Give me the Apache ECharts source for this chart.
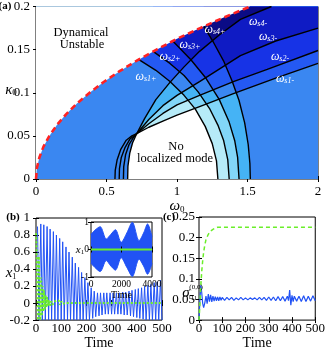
<!DOCTYPE html>
<html>
<head>
<meta charset="utf-8">
<script src="https://cdn.jsdelivr.net/npm/echarts@6/dist/echarts.min.js"></script>
<style>
html,body{margin:0;padding:0;background:#fff}
#main{width:328px;height:351px}
</style>
</head>
<body>
<div id="main"></div>
<script>
// (a) phase diagram: red boundary of the dynamically unstable region
const boundaryOmega = [0, 0.006, 0.024, 0.053, 0.095, 0.148, 0.213, 0.29, 0.38, 0.48, 0.593, 0.718, 0.855, 1.0, 1.164, 1.335, 1.52];
const boundaryKappa = [0, 0.0125, 0.025, 0.0375, 0.05, 0.0625, 0.075, 0.0875, 0.1, 0.1125, 0.125, 0.1375, 0.15, 0.1625, 0.175, 0.1875, 0.2];

// omega_s n+ curves (from the red boundary down to the axis)
const plusOmega = [
  [0.73, 0.85, 0.95, 1.05, 1.13, 1.2, 1.25, 1.28, 1.29],
  [0.83, 0.95, 1.05, 1.15, 1.23, 1.29, 1.33, 1.36, 1.37],
  [0.97, 1.1, 1.2, 1.3, 1.37, 1.41, 1.43, 1.44],
  [1.19, 1.26, 1.33, 1.39, 1.44, 1.48, 1.505, 1.517, 1.52]
];
const plusKappa = [
  [0.1385, 0.126, 0.113, 0.097, 0.081, 0.061, 0.041, 0.021, 0],
  [0.148, 0.134, 0.12, 0.101, 0.082, 0.0625, 0.045, 0.0225, 0],
  [0.16, 0.138, 0.118, 0.092, 0.066, 0.044, 0.025, 0],
  [0.177, 0.158, 0.137, 0.114, 0.091, 0.065, 0.04, 0.018, 0]
];

// omega_s n- curves (from the axis through the crossing point, out to the right)
const minusOmega = [
  [0.56, 0.562, 0.575, 0.6, 0.64, 0.68, 0.714, 0.8, 0.9, 1.0, 1.16, 1.4, 1.7, 2.0],
  [0.59, 0.592, 0.605, 0.63, 0.665, 0.714, 0.8, 0.9, 1.0, 1.16, 1.4, 1.64, 2.0],
  [0.62, 0.622, 0.635, 0.66, 0.69, 0.714, 0.8, 0.9, 1.0, 1.16, 1.45, 1.7, 2.0],
  [0.65, 0.652, 0.665, 0.685, 0.714, 0.77, 0.85, 0.95, 1.05, 1.16, 1.3, 1.45, 1.67]
];
const minusKappa = [
  [0, 0.01, 0.022, 0.034, 0.045, 0.05, 0.0525, 0.06, 0.067, 0.074, 0.084, 0.099, 0.117, 0.134],
  [0, 0.012, 0.025, 0.036, 0.046, 0.0525, 0.064, 0.076, 0.086, 0.097, 0.113, 0.127, 0.149],
  [0, 0.014, 0.028, 0.04, 0.048, 0.0525, 0.069, 0.085, 0.097, 0.113, 0.143, 0.16, 0.175],
  [0, 0.015, 0.03, 0.042, 0.0525, 0.07, 0.092, 0.112, 0.13, 0.148, 0.167, 0.185, 0.2]
];

// (b) x1 over time: blue peaks / troughs, green damped curve
const bluePeakTime = [6,19,31,44,56,69,81,94,106,119,131,144,156,169,181,194,206,219,231,244,256,269,281,294,306,319,331,344,356,369,381,394,406,419,431,444,456,469,481,494];
const bluePeakValue = [0.9,0.93,0.92,0.9,0.87,0.84,0.8,0.76,0.72,0.66,0.6,0.54,0.47,0.42,0.36,0.3,0.24,0.18,0.14,0.12,0.12,0.12,0.12,0.12,0.12,0.12,0.12,0.13,0.13,0.14,0.15,0.16,0.17,0.18,0.2,0.21,0.22,0.24,0.25,0.27];
const blueTroughTime = [12,25,37,50,62,75,87,100,112,125,137,150,162,175,187,200,212,225,237,250,262,275,287,300,312,325,337,350,362,375,387,400,412,425,437,450,462,475,487,500];
const blueTroughValue = [-0.2,-0.2,-0.2,-0.2,-0.2,-0.2,-0.2,-0.2,-0.2,-0.2,-0.2,-0.2,-0.2,-0.2,-0.2,-0.2,-0.2,-0.18,-0.16,-0.15,-0.14,-0.13,-0.13,-0.13,-0.13,-0.13,-0.13,-0.14,-0.14,-0.15,-0.16,-0.17,-0.18,-0.19,-0.2,-0.2,-0.2,-0.2,-0.2,-0.2];
const greenTime = [0,2,5,8,11,14,17,20,23,26,29,32,35,38,41,44,47,50,55,60,65,70,75,80,85,90,95,100,105,110,115,120,140,500];
const greenValue = [0.82,0.7,0.2,-0.2,0.55,0.2,-0.2,0.3,-0.15,0.2,-0.1,0.15,-0.08,0.1,-0.05,0.07,-0.04,0.04,-0.03,0.02,-0.02,0.01,0,0.03,0.04,0.03,-0.02,0.02,-0.01,0.01,0,0,0,0];

// (b) inset: long-time envelope of x1
const insetTime = [0,250,600,1000,1300,1600,1980,2350,2710,3150,3450,3710,4000];
const insetUpper = [0.55,0.7,0.83,0.38,0.55,0.72,0.26,0.6,0.99,0.32,0.6,0.93,0.45];
const insetLower = [-0.5,-0.65,-0.8,-0.4,-0.6,-0.75,-0.3,-0.65,-0.98,-0.35,-0.6,-0.9,-0.5];
const insetGreenTime = [0, 4000];
const insetGreenValue = [0, 0];

// (c) sigma_11 over time
const sigmaGreenTime = [0,4,8,12,16,20,25,30,40,50,60,70,80,100,500];
const sigmaGreenValue = [0,0.04,0.085,0.12,0.145,0.165,0.182,0.195,0.208,0.216,0.22,0.223,0.225,0.225,0.225];
const sigmaBlueTime = [0,4,8,12,16,20,25,30,35,40,45,50,55,60,65,70,75,80,85,90,95,100,110,120,130,140,150,160,170,180,190,200,210,220,230,240,250,260,270,280,290,300,310,320,330,340,350,360,370,380,385,390,395,400,405,410,420,430,440,450,460,470,480,490,500];
const sigmaBlueValue = [0,0.05,0.085,0.065,0.04,0.03,0.042,0.058,0.04,0.063,0.045,0.061,0.044,0.058,0.046,0.057,0.047,0.056,0.047,0.056,0.048,0.055,0.048,0.055,0.049,0.055,0.048,0.054,0.049,0.055,0.049,0.054,0.049,0.054,0.05,0.054,0.049,0.055,0.049,0.055,0.048,0.056,0.048,0.056,0.047,0.057,0.047,0.057,0.046,0.058,0.047,0.073,0.036,0.06,0.045,0.058,0.046,0.058,0.045,0.059,0.045,0.058,0.046,0.059,0.047];

// colour by number of existing branches (0 = none ... 8 = all)
const levelColors = ['#ffffff', '#b6ebf8', '#82d6f8', '#45b3f5', '#3a87f1', '#2459f3', '#1733e6', '#0f1bc4', '#0b0b86'];

const serif = 'Liberation Serif';
const blue = '#2152f5';
const green = '#6bee2a';

function pairs(xs, ys) { return xs.map((x, i) => [x, ys[i]]); }
function zigzag(t1, v1, t2, v2) {
  const out = [];
  t1.forEach((t, i) => { out.push([t, v1[i]]); out.push([t2[i], v2[i]]); });
  return out;
}

function renderRegions(params, api) {
  const P = (w, k) => api.coord([w, k]);
  const poly = (ws, ks) => ws.map((w, i) => P(w, ks[i]));
  const plot = [P(0, 0), P(2, 0), P(2, 0.2), P(0, 0.2)];
  const above = minusOmega.map((ws, n) => {
    const pts = poly(ws, minusKappa[n]);
    if (minusKappa[n][ws.length - 1] < 0.2) pts.push(P(2, 0.2));
    pts.push(P(0, 0.2), P(0, 0));
    return pts;
  });
  const outside = plusOmega.map((ws, n) => {
    const pts = [P(ws[0], 0.2)].concat(poly(ws, plusKappa[n]));
    pts.push(P(2, 0), P(2, 0.2));
    return pts;
  });
  const children = [];
  for (let a = 0; a <= 4; a++) {
    const kids = [{ type: 'polygon', shape: { points: plot }, style: { fill: levelColors[a] } }];
    outside.forEach((pts, b) => {
      kids.push({ type: 'polygon', shape: { points: pts }, style: { fill: levelColors[a + b + 1] } });
    });
    children.push({
      type: 'group',
      clipPath: { type: 'polygon', shape: { points: a === 0 ? plot : above[a - 1] } },
      children: kids
    });
  }
  const unstable = poly(boundaryOmega, boundaryKappa);
  unstable.push(P(0, 0.2));
  children.push({ type: 'polygon', shape: { points: unstable }, style: { fill: '#fff' } });
  return { type: 'group', children: children };
}

const label = { color: '#000', fontFamily: serif, fontSize: 13, formatter: v => String(v) };
function mainX(grid, min, max, interval, margin, name, nameGap, nameStyle) {
  return {
    type: 'value', gridIndex: grid, min: min, max: max, interval: interval, position: 'bottom',
    axisLine: { show: false }, splitLine: { show: false },
    axisTick: { inside: true, length: 3, lineStyle: { color: '#000' } },
    axisLabel: Object.assign({ margin: margin }, label),
    name: name, nameLocation: 'middle', nameGap: nameGap, nameTextStyle: nameStyle
  };
}
function mainY(grid, min, max, interval, margin) {
  return {
    type: 'value', gridIndex: grid, min: min, max: max, interval: interval, position: 'left',
    axisLine: { show: false }, splitLine: { show: false },
    axisTick: { inside: true, length: 3, lineStyle: { color: '#000' } },
    axisLabel: Object.assign({ margin: margin }, label)
  };
}
function mirror(axis, pos) {
  return Object.assign({}, axis, {
    position: pos, axisLabel: { show: false }, name: '', z: axis.z
  });
}

const ax = [
  mainX(0, 0, 2, 0.5, 6, '{i|ω}{s|0}', 15, {
    rich: {
      i: { fontFamily: serif, fontStyle: 'italic', fontSize: 15, color: '#000' },
      s: { fontFamily: serif, fontSize: 9, color: '#000', verticalAlign: 'bottom', lineHeight: 9 }
    }
  }),
  mainX(1, 0, 500, 100, 2, 'Time', 14, { fontFamily: serif, fontSize: 14, color: '#000' }),
  Object.assign(mainX(2, 0, 4000, 2000, 2, 'Time', 8, { fontFamily: serif, fontSize: 10, color: '#000' }), { z: 4 }),
  mainX(3, 0, 500, 100, 2, 'Time', 14, { fontFamily: serif, fontSize: 14, color: '#000' })
];
ax[2].axisLabel.fontSize = 9.5;
const ay = [
  mainY(0, 0, 0.2, 0.05, 6),
  mainY(1, -0.2, 1, 0.2, 6),
  Object.assign(mainY(2, -1, 1, 1, 2), { z: 4 }),
  mainY(3, 0, 0.25, 0.05, 4)
];
ay[2].axisLabel.fontSize = 9.5;

const xAxes = [];
const yAxes = [];
ax.forEach(a => { xAxes.push(a); });
ax.forEach(a => { xAxes.push(mirror(a, 'top')); });
ay.forEach(a => { yAxes.push(a); });
ay.forEach(a => { yAxes.push(mirror(a, 'right')); });

function blackCurve(ws, ks) {
  return {
    type: 'line', xAxisIndex: 0, yAxisIndex: 0, data: pairs(ws, ks), symbol: 'none',
    lineStyle: { color: '#000', width: 1.4 }, z: 3, silent: true, clip: true
  };
}

function txt(x, y, text, font, fill, extra) {
  return {
    type: 'text', x: x, y: y, z: 10, silent: true,
    style: Object.assign({
      text: text, font: font, fill: fill || '#000',
      align: 'center', verticalAlign: 'middle', textAlign: 'center', textVerticalAlign: 'middle'
    }, extra || {})
  };
}
const omegaRich = {
  w: { fontFamily: serif, fontStyle: 'italic', fontSize: 12, color: '#fff' },
  s: { fontFamily: serif, fontStyle: 'italic', fontSize: 8, color: '#fff', verticalAlign: 'bottom', lineHeight: 8 }
};
function omegaLabel(x, y, s) {
  return txt(x, y, '{w|ω}{s|' + s + '}', '12px ' + serif, '#fff', { rich: omegaRich });
}

const option = {
  animation: false,
  backgroundColor: '#fff',
  grid: [
    { left: 36, top: 5, width: 282, height: 174, show: true, borderColor: '#000', borderWidth: 1, backgroundColor: 'transparent' },
    { left: 36, top: 218, width: 126, height: 109, show: true, borderColor: '#000', borderWidth: 1, backgroundColor: 'transparent' },
    { left: 91, top: 222, width: 61, height: 55, show: true, borderColor: '#000', borderWidth: 1, backgroundColor: '#fff', z: 3 },
    { left: 199, top: 217, width: 121, height: 109, show: true, borderColor: '#000', borderWidth: 1, backgroundColor: 'transparent' }
  ],
  xAxis: xAxes,
  yAxis: yAxes,
  series: [
    { type: 'custom', xAxisIndex: 0, yAxisIndex: 0, data: [[0, 0]], renderItem: renderRegions, z: 1, silent: true },
    ...plusOmega.map((ws, n) => blackCurve(ws, plusKappa[n])),
    ...minusOmega.map((ws, n) => blackCurve(ws, minusKappa[n])),
    {
      type: 'line', xAxisIndex: 0, yAxisIndex: 0, data: pairs(boundaryOmega, boundaryKappa), symbol: 'none',
      lineStyle: { color: '#ff2222', width: 2.6, type: [6, 4] }, z: 4, silent: true
    },
    {
      type: 'line', xAxisIndex: 1, yAxisIndex: 1, symbol: 'none', clip: true, z: 2,
      data: zigzag(bluePeakTime, bluePeakValue, blueTroughTime, blueTroughValue),
      lineStyle: { color: blue, width: 1 }
    },
    {
      type: 'line', xAxisIndex: 1, yAxisIndex: 1, symbol: 'none', clip: true, z: 2,
      data: pairs(greenTime, greenValue),
      lineStyle: { color: green, width: 2, type: [2, 2] }
    },
    {
      type: 'line', xAxisIndex: 2, yAxisIndex: 2, symbol: 'none', z: 4, smooth: 0.3,
      data: pairs(insetTime, insetUpper), lineStyle: { color: blue, width: 1 },
      areaStyle: { color: blue, opacity: 1, origin: 0 }
    },
    {
      type: 'line', xAxisIndex: 2, yAxisIndex: 2, symbol: 'none', z: 4, smooth: 0.3,
      data: pairs(insetTime, insetLower), lineStyle: { color: blue, width: 1 },
      areaStyle: { color: blue, opacity: 1, origin: 0 }
    },
    {
      type: 'line', xAxisIndex: 2, yAxisIndex: 2, symbol: 'none', z: 5,
      data: pairs(insetGreenTime, insetGreenValue), lineStyle: { color: green, width: 2 }
    },
    {
      type: 'line', xAxisIndex: 3, yAxisIndex: 3, symbol: 'none', clip: true, z: 2,
      data: pairs(sigmaBlueTime, sigmaBlueValue), lineStyle: { color: blue, width: 1.2 }
    },
    {
      type: 'line', xAxisIndex: 3, yAxisIndex: 3, symbol: 'none', clip: true, z: 3,
      data: pairs(sigmaGreenTime, sigmaGreenValue), lineStyle: { color: green, width: 1.5, type: [4, 3] }
    }
  ],
  graphic: [
    txt(5, 6, '(a)', 'bold 11px ' + serif),
    txt(13, 217, '(b)', 'bold 11px ' + serif),
    txt(169, 217, '(c)', 'bold 11px ' + serif),
    txt(11, 90, '{i|κ}{s|0}', '15px ' + serif, '#000', {
      rich: { i: { fontFamily: serif, fontStyle: 'italic', fontSize: 15 }, s: { fontFamily: serif, fontSize: 9, verticalAlign: 'bottom', lineHeight: 9 } }
    }),
    txt(11, 273, '{i|x}{s|1}', '15px ' + serif, '#000', {
      rich: { i: { fontFamily: serif, fontStyle: 'italic', fontSize: 15 }, s: { fontFamily: serif, fontSize: 8, verticalAlign: 'bottom', lineHeight: 8 } }
    }),
    txt(80, 250, '{i|x}{s|1}', '11px ' + serif, '#000', {
      rich: { i: { fontFamily: serif, fontStyle: 'italic', fontSize: 11 }, s: { fontFamily: serif, fontSize: 7, verticalAlign: 'bottom', lineHeight: 7 } }
    }),
    txt(186, 293, '{i|σ}', '15px ' + serif, '#000', {
      rich: { i: { fontFamily: serif, fontStyle: 'italic', fontSize: 15, color: '#000' } }
    }),
    txt(196, 287, '(0,0)', '7px ' + serif),
    txt(194, 298, '11', '7px ' + serif),
    txt(81, 33, 'Dynamical', '12.5px ' + serif),
    txt(82, 45, 'Unstable', '12.5px ' + serif),
    txt(176, 147, 'No', '12.5px ' + serif),
    txt(175, 159, 'localized mode', '12.5px ' + serif),
    omegaLabel(146, 77, 's1+'),
    omegaLabel(170, 57, 's2+'),
    omegaLabel(190, 45, 's3+'),
    omegaLabel(215, 30, 's4+'),
    omegaLabel(258, 22, 's4-'),
    omegaLabel(268, 37, 's3-'),
    omegaLabel(280, 57, 's2-'),
    omegaLabel(285, 79, 's1-')
  ]
};

const chart = echarts.init(document.getElementById('main'));
chart.setOption(option);
</script>
</body>
</html>
